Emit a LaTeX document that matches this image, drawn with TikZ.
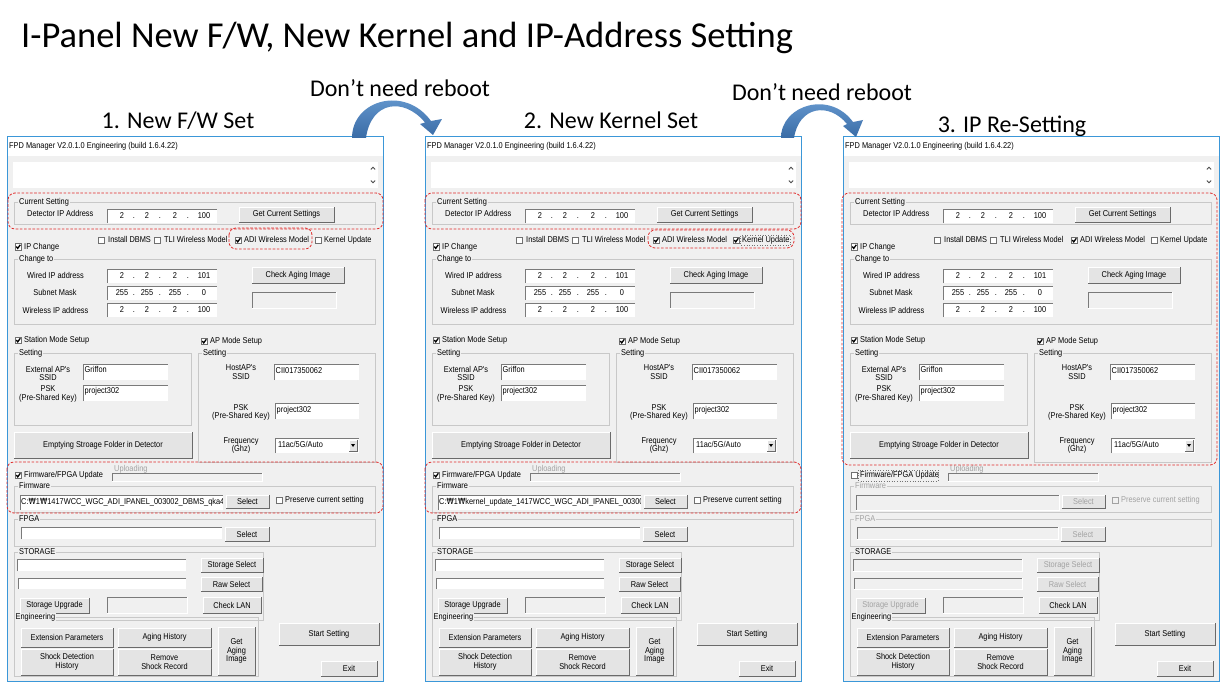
\documentclass[tikz,border=0pt]{standalone}
\usepackage{fontspec}
\newfontfamily\calfont{Carlito}
\newfontfamily\uifont[FakeStretch=0.87]{Liberation Sans}
\newfontfamily\wonfont[FakeStretch=0.87]{DejaVu Sans}
\newcommand\wonsym{{\wonfont ₩}}
\definecolor{winbg}{HTML}{F0F0F0}
\definecolor{winborder}{HTML}{3B97D8}
\definecolor{grpcol}{HTML}{C8C8C8}
\definecolor{tbdark}{HTML}{7A7A7A}
\definecolor{btnfill}{HTML}{E4E4E4}
\definecolor{btnshadow}{HTML}{6A6A6A}
\definecolor{redbox}{HTML}{E02828}
\definecolor{distext}{HTML}{A2A2A2}
\definecolor{cbborder}{HTML}{707070}
\definecolor{arrowtop}{HTML}{6FA2D8}
\definecolor{arrowbot}{HTML}{3A6CA6}
\newcounter{fpdnode}
\tikzset{
  autoname/.code={\stepcounter{fpdnode}\pgfkeysalso{name=nd\arabic{fpdnode}}},
  ui1/.style={font=\uifont\fontsize{8.5}{9}\selectfont, inner sep=0pt, text height=6.2pt, text depth=1.8pt},
  uim/.style={font=\uifont\fontsize{8.5}{8.7}\selectfont, inner sep=0pt, align=center},
  redbx/.style={draw=redbox, line width=0.8pt, dash pattern=on 2.6pt off 1.6pt, rounded corners=7pt},
  scrl/.style={draw=black!70, line width=0.8pt},
  bigtitle/.style={font=\calfont\fontsize{36.5}{42}\selectfont, inner sep=0pt},
  subtitle/.style={font=\calfont\fontsize{24}{28}\selectfont, inner sep=0pt},
  focusrect/.style={draw=black!55, line width=0.6pt, dotted}
}
% white text box (sunken)
\newcommand\tbx[4]{\fill[white] (#1,#2) rectangle (#3,#4);
  \draw[tbdark,line width=0.8pt] (#1,#4) -- (#1,#2) -- (#3,#2);}
% disabled / sunken gray box
\newcommand\snk[4]{\fill[winbg] (#1,#2) rectangle (#3,#4);
  \draw[tbdark,line width=0.8pt] (#1,#4) -- (#1,#2) -- (#3,#2);
  \draw[white,line width=0.8pt] (#1,#4) -- (#3,#4) -- (#3,#2);}
% button
\newcommand\btn[6][black]{\fill[btnfill] (#2,#3) rectangle (#4,#5);
  \draw[white,line width=0.8pt] (#2,#5) -- (#2,#3) -- (#4,#3);
  \draw[btnshadow,line width=0.8pt] (#2,#5) -- (#4,#5) -- (#4,#3);
  \node[uim,text=#1] at ({(#2+#4)/2},{(#3+#5)/2}) {#6};}
% checkbox: 0 unchecked, 1 checked, 2 disabled
\newcommand\cbx[3]{\ifcase#3\relax
  \filldraw[fill=white,draw=cbborder,line width=0.7pt] (#1,#2) rectangle ++(6.4,6.4);
  \or
  \filldraw[fill=white,draw=cbborder,line width=0.7pt] (#1,#2) rectangle ++(6.4,6.4);
  \draw[line width=1.3pt] (#1+1.3,#2+3.0) -- (#1+2.7,#2+4.9) -- (#1+5.3,#2+1.3);
  \or
  \filldraw[fill=winbg,draw=distext,line width=0.7pt] (#1,#2) rectangle ++(6.4,6.4);
  \fi}
% group box
\newcommand\grp[6][black]{\draw[grpcol,line width=0.7pt] (#2,#3) rectangle (#4,#5);
  \node[ui1,anchor=west,fill=winbg,inner xsep=1pt,text=#1] at (#2+4,#3) {#6};}
% IP address box
\newcommand\ipb[6]{\tbx{#1}{#2}{#1+110}{#2+14}
  \node[ui1] at (#1+15,#2+7.3) {#3};
  \node[ui1] at (#1+27,#2+7.3) {.};
  \node[ui1] at (#1+40,#2+7.3) {#4};
  \node[ui1] at (#1+53,#2+7.3) {.};
  \node[ui1] at (#1+68,#2+7.3) {#5};
  \node[ui1] at (#1+81,#2+7.3) {.};
  \node[ui1] at (#1+97,#2+7.3) {#6};}
% one FPD Manager window
\newcommand\fpdpanel[2]{%
\ifnum#2=3 \def\fpdF{0}\def\fpdGC{distext}\def\fpdDis{1}\else\def\fpdF{1}\def\fpdGC{black}\def\fpdDis{0}\fi
\ifnum#2=2 \def\fpdK{1}\else\def\fpdK{0}\fi
\begin{scope}[xshift=#1pt]
\filldraw[fill=winbg,draw=winborder,line width=1pt] (7,137) rectangle (383,681);
\fill[white] (7.5,137.5) rectangle (382.5,156);
\node[ui1,anchor=west] at (9,146.5) {FPD Manager V2.0.1.0 Engineering (build 1.6.4.22)};
\fill[white] (13,162) rectangle (378,188);
\draw[scrl] (370.8,169.5) -- (373,167.3) -- (375.2,169.5);
\draw[scrl] (370.8,180.5) -- (373,182.7) -- (375.2,180.5);
% current setting
\grp{14}{202}{375}{224}{Current Setting}
\node[ui1,anchor=west] at (27,214) {Detector IP Address};
\ipb{107}{209}{2}{2}{2}{100}
\btn{239}{207}{334}{222}{Get Current Settings}
% check row
\cbx{15}{243.5}{1}\node[ui1,anchor=west] at (24,247) {IP Change};
\cbx{98}{237}{0}\node[ui1,anchor=west] at (108,240.3) {Install DBMS};
\cbx{154}{237}{0}\node[ui1,anchor=west] at (164,240.3) {TLI Wireless Model};
\cbx{235}{237}{1}\node[ui1,anchor=west] at (244,240.3) {ADI Wireless Model};
\cbx{315}{237}{\fpdK}\node[ui1,anchor=west] at (324,240.3) {Kernel Update};
% change to
\grp{14}{259}{375}{324}{Change to}
\node[ui1] at (55.5,276) {Wired IP address};
\ipb{107}{269}{2}{2}{2}{101}
\node[ui1] at (55,293.5) {Subnet Mask};
\ipb{107}{286}{255}{255}{255}{0}
\node[ui1] at (55.5,311) {Wireless IP address};
\ipb{107}{303}{2}{2}{2}{100}
\btn{252}{267}{344}{283}{Check Aging Image}
\snk{252}{292}{336}{308}
% station / AP
\cbx{15}{337}{1}\node[ui1,anchor=west] at (24,340.5) {Station Mode Setup};
\cbx{201}{338}{1}\node[ui1,anchor=west] at (210,341.5) {AP Mode Setup};
\grp{14}{353}{191}{425}{Setting}
\node[uim] at (48,373.5) {External AP's\\SSID};
\tbx{83}{364}{168}{380}\node[ui1,anchor=west] at (84.5,370.5) {Griffon};
\node[uim] at (48,394) {PSK\\(Pre-Shared Key)};
\tbx{83}{385}{168}{401}\node[ui1,anchor=west] at (84.5,391) {project302};
\btn{14}{432}{192}{458}{Emptying Stroage Folder in Detector}
\grp{198}{353}{375}{462}{Setting}
\node[uim] at (241,372) {HostAP's\\SSID};
\tbx{274}{364}{359}{380}\node[ui1,anchor=west] at (275.5,371) {CII017350062};
\node[uim] at (241,412.5) {PSK\\(Pre-Shared Key)};
\tbx{275}{403}{359}{419}\node[ui1,anchor=west] at (276.5,410) {project302};
\node[uim] at (241,445.5) {Frequency\\(Ghz)};
\tbx{275}{438}{359}{453}\node[ui1,anchor=west] at (278,445.5) {11ac/5G/Auto};
\btn{349}{440}{357}{451}{}
\fill (351,444) -- (355,444) -- (353,447) -- cycle;
% firmware
\cbx{15}{472}{\fpdF}\node[ui1,anchor=west] at (24,475.5) {Firmware/FPGA Update};
\node[ui1,anchor=west,text=distext] at (114,469) {Uploading};
\snk{112}{473}{262}{481}
\grp[\fpdGC]{14}{486}{375}{512}{Firmware}
\grp[\fpdGC]{14}{519}{375}{546}{FPGA}
\ifnum\fpdDis=1
  \snk{20}{495}{223}{510}
  \btn[distext]{226}{495}{269}{508}{Select}
  \cbx{276}{497}{2}\node[ui1,anchor=west,text=distext] at (285,500.5) {Preserve current setting};
  \snk{21}{527}{222}{539}
  \btn[distext]{225}{527}{269}{541}{Select}
\else
  \tbx{20}{495}{223}{510}
  \begin{scope}
    \clip (20.5,495.5) rectangle (222.5,510);
    \node[ui1,anchor=west] at (21,502.5) {\ifnum#2=1 C:\wonsym 1\wonsym 1417WCC\_WGC\_ADI\_IPANEL\_003002\_DBMS\_qka4\_2\else C:\wonsym 1\wonsym kernel\_update\_1417WCC\_WGC\_ADI\_IPANEL\_003002\fi};
  \end{scope}
  \btn{226}{495}{269}{508}{Select}
  \cbx{276}{497}{0}\node[ui1,anchor=west] at (285,500.5) {Preserve current setting};
  \tbx{21}{527}{222}{539}
  \btn{225}{527}{269}{541}{Select}
\fi
% storage
\grp{14}{552}{263}{620}{STORAGE}
\ifnum\fpdDis=1
  \snk{17}{559}{186}{571}
  \btn[distext]{201}{558}{263}{572}{Storage Select}
  \snk{18}{578}{186}{589}
  \btn[distext]{201}{577}{262}{591}{Raw Select}
  \btn[distext]{20}{598}{89}{613}{Storage Upgrade}
\else
  \tbx{17}{559}{186}{571}
  \btn{201}{558}{263}{572}{Storage Select}
  \tbx{18}{578}{186}{589}
  \btn{201}{577}{262}{591}{Raw Select}
  \btn{20}{598}{89}{613}{Storage Upgrade}
\fi
\snk{107}{597}{187}{613}
\btn{203}{597}{261}{613}{Check LAN}
% engineering
\draw[grpcol,line width=0.7pt] (14,617) rectangle (258,676);
\node[ui1,anchor=west,fill=winbg,inner xsep=0.5pt] at (15,617) {Engineering};
\btn{21}{628}{113}{647}{Extension Parameters}
\btn{118}{628}{211}{647}{Aging History}
\btn{21}{649}{113}{675}{Shock Detection\\History}
\btn{118}{649}{211}{675}{Remove\\Shock Record}
\btn{218}{627}{255}{675}{Get\\Aging\\Image}
\btn{279}{623}{379}{645}{Start Setting}
\btn{321}{661}{377}{676}{Exit}
% focus rectangles and red marks
\ifcase#2\relax\or
  \draw[redbx] (8,193) rectangle (383,229);
  \draw[redbx] (229,228) rectangle (312,249);
  \draw[redbx] (7,462) rectangle (383,513);
\or
  \draw[focusrect] (322.5,235.5) rectangle (372.5,245);
  \draw[redbx] (7,193) rectangle (383,229);
  \draw[redbx] (230,230) rectangle (376,248);
  \draw[redbx] (7,462) rectangle (383,513);
\or
  \draw[focusrect] (22.5,470) rectangle (102,481);
  \draw[redbx] (6,193) rectangle (381,465);
\fi
\end{scope}}
\begin{document}
\begin{tikzpicture}[x=1pt,y=-1pt,every node/.append style={autoname}]
\fill[white] (0,0) rectangle (1221,682);
\useasboundingbox (0,0) rectangle (1221,682);
\node[bigtitle,anchor=base west] (title) at (21,48) {I-Panel New F/W, New Kernel and IP-Address Setting};
\node[subtitle,anchor=base] (reboot1) at (400,97) {Don’t need reboot};
\node[subtitle,anchor=base] (reboot2) at (822,101) {Don’t need reboot};
\node[subtitle,anchor=base] (set1) at (178,129) {1. New F/W Set};
\node[subtitle,anchor=base] (set2) at (611,129) {2. New Kernel Set};
\node[subtitle,anchor=base] (set3) at (1012,133) {3. IP Re-Setting};
\fpdpanel{0}{1}
\fpdpanel{418}{2}
\fpdpanel{836}{3}
% curved arrows
\shade[top color=arrowtop,bottom color=arrowbot]
  (352,138) .. controls (352,100) and (405,85) .. (431,121)
  -- (442,119) -- (433,135) -- (420,124) -- (425,122.5)
  .. controls (404,97) and (371,101) .. (366,138) -- cycle;
\shade[top color=arrowtop,bottom color=arrowbot]
  (781,138) .. controls (781,105) and (830,90) .. (853,122)
  -- (863,120) -- (856,137) -- (843,126) -- (847,124)
  .. controls (829,102) and (799,106) .. (794,138) -- cycle;
\end{tikzpicture}
\end{document}
